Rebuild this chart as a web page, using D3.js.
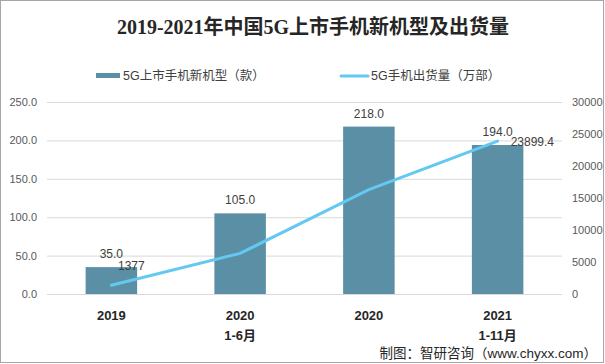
<!DOCTYPE html>
<html><head><meta charset="utf-8">
<script src="https://cdn.jsdelivr.net/npm/d3@7"></script>
<style>
body{margin:0;background:#fff;}
svg{display:block;}
</style></head>
<body>
<svg id="c" width="605" height="364"></svg>
<script>
const categories = ["2019", "2020\n1-6月", "2020", "2021\n1-11月"];
const models = [35.0, 105.0, 218.0, 194.0];
const shipments = [1377, 6349.6, 16300, 23899.4];
const leftTicks = [0, 50, 100, 150, 200, 250];
const rightTicks = [0, 5000, 10000, 15000, 20000, 25000, 30000];

const svg = d3.select("#c");
const W = 605, H = 364;
const m = {left: 47, right: 562, top: 102, bottom: 294};
const sans = "'Liberation Sans', Arial, 'Noto Sans CJK SC', sans-serif";

svg.append("rect").attr("x",0.5).attr("y",0.5).attr("width",W-2).attr("height",H-2)
  .attr("fill","#fff").attr("stroke","#a6a6a6");

const x = d3.scaleBand().domain(categories).range([m.left, m.right]).paddingInner(0.6).paddingOuter(0.3);
const yL = d3.scaleLinear().domain([0,250]).range([m.bottom, m.top]);
const yR = d3.scaleLinear().domain([0,30000]).range([m.bottom, m.top]);

// gridlines + left axis
const gl = svg.append("g").attr("transform",`translate(${m.left},0)`)
  .call(d3.axisLeft(yL).tickValues(leftTicks).tickSize(-(m.right-m.left)).tickFormat(d=>d3.format(".1f")(d)).tickPadding(10));
gl.select(".domain").remove();
gl.selectAll(".tick line").attr("stroke","#d9d9d9");
gl.selectAll(".tick text").attr("font-family",sans).attr("font-size",11).attr("fill","#595959");

// right axis
const gr = svg.append("g").attr("transform",`translate(${m.right},0)`)
  .call(d3.axisRight(yR).tickValues(rightTicks).tickSize(0).tickPadding(10).tickFormat(d3.format("d")));
gr.select(".domain").remove();
gr.selectAll(".tick text").attr("font-family",sans).attr("font-size",11).attr("fill","#595959");

// bars
svg.append("g").selectAll("rect").data(models).join("rect")
  .attr("x",(d,i)=>x(categories[i])).attr("width",x.bandwidth())
  .attr("y",d=>yL(d)).attr("height",d=>m.bottom-yL(d)).attr("fill","#5b8fa6");

svg.append("g").selectAll("text").data(models).join("text")
  .attr("x",(d,i)=>x(categories[i])+x.bandwidth()/2).attr("y",d=>yL(d)-9)
  .attr("text-anchor","middle").attr("font-family",sans).attr("font-size",12).attr("fill","#404040")
  .text(d=>d3.format(".1f")(d));

// line
const cx = i => x(categories[i]) + x.bandwidth()/2;
const line = d3.line().x((d,i)=>cx(i)).y(d=>yR(d));
svg.append("path").datum(shipments).attr("d",line).attr("fill","none")
  .attr("stroke","#63c9f1").attr("stroke-width",3).attr("stroke-linejoin","round").attr("stroke-linecap","round");

svg.append("text").attr("x",cx(0)+20).attr("y",yR(shipments[0])-15)
  .attr("text-anchor","middle").attr("font-family",sans).attr("font-size",12).attr("fill","#404040")
  .text(d3.format("")(shipments[0]));
svg.append("text").attr("x",cx(3)+13).attr("y",yR(shipments[3])+5)
  .attr("text-anchor","start").attr("font-family",sans).attr("font-size",12).attr("fill","#404040")
  .text(d3.format(".1f")(shipments[3]));

// x labels
const xl = svg.append("g").selectAll("text").data(categories).join("text")
  .attr("x",(d,i)=>cx(i)).attr("y",320)
  .attr("text-anchor","middle").attr("font-family",sans).attr("font-size",13).attr("font-weight","bold").attr("fill","#262626");
xl.each(function(d){
  const t = d3.select(this);
  d.split("\n").forEach((s,k)=>t.append("tspan").attr("x",t.attr("x")).attr("dy",k?20:0).text(s));
});

// title
svg.append("text").attr("x",313).attr("y",34).attr("text-anchor","middle")
  .attr("font-family","'Liberation Serif','Times New Roman','Noto Sans CJK SC',serif").attr("font-weight","bold")
  .attr("font-size",20).attr("fill","#262626")
  .text("2019-2021年中国5G上市手机新机型及出货量");

// legend
svg.append("rect").attr("x",96).attr("y",73).attr("width",24).attr("height",5).attr("fill","#5b8fa6");
svg.append("text").attr("x",123).attr("y",80).attr("font-family",sans).attr("font-size",12.5).attr("fill","#404040")
  .text("5G上市手机新机型（款）");
svg.append("line").attr("x1",341).attr("x2",368).attr("y1",76).attr("y2",76).attr("stroke","#63c9f1").attr("stroke-width",3).attr("stroke-linecap","round");
svg.append("text").attr("x",371).attr("y",80).attr("font-family",sans).attr("font-size",12.5).attr("fill","#404040")
  .text("5G手机出货量（万部）");

// source
svg.append("text").attr("x",597).attr("y",358).attr("text-anchor","end").attr("font-family",sans).attr("font-size",13.5).attr("fill","#262626")
  .text("制图：智研咨询（www.chyxx.com）");
</script>
</body></html>
